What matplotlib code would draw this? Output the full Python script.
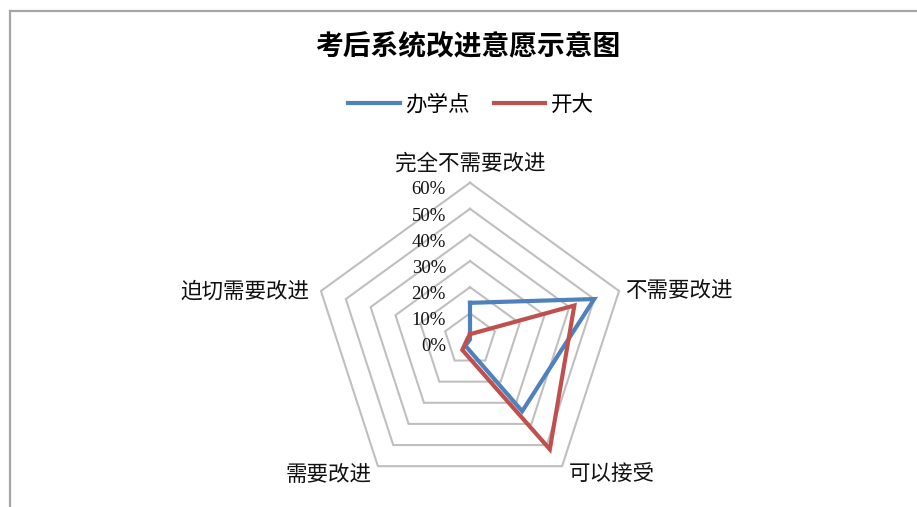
import numpy as np
import matplotlib
matplotlib.use('Agg')
import matplotlib.pyplot as plt
from matplotlib.lines import Line2D

# ---- data ----
categories = ['完全不需要改进', '不需要改进', '可以接受', '需要改进', '迫切需要改进']
series_names = ['办学点', '开大']
banxuedian = [14, 50, 34, 3, 0]
kaida = [2, 42, 52, 5, 1]
tick_values = [0, 10, 20, 30, 40, 50, 60]
tick_labels = ['0%', '10%', '20%', '30%', '40%', '50%', '60%']
title = '考后系统改进意愿示意图'

# ---- style ----
colors = ['#4F81BD', '#C0504D']
grid_color = '#BFBFBF'
cjk = ['Noto Sans CJK SC', 'DejaVu Sans']
plt.rcParams['font.family'] = cjk

W, H = 917, 507
fig = plt.figure(figsize=(W / 100, H / 100), dpi=100)
fig.patch.set_facecolor('white')

# border of the chart area (cropped at right/bottom)
fig.add_artist(Line2D([9.5 / W, 9.5 / W], [-0.1, 1 - 11 / H], transform=fig.transFigure,
                      color='#A6A6A6', lw=1.6))
fig.add_artist(Line2D([9.5 / W, 1.1], [1 - 11 / H, 1 - 11 / H], transform=fig.transFigure,
                      color='#A6A6A6', lw=1.6))

cx, cy, R = 470, 339.4, 156.7
ax = fig.add_axes([(cx - R) / W, (H - cy - R) / H, 2 * R / W, 2 * R / H], projection='polar')
ax.set_theta_offset(np.pi / 2)
ax.set_theta_direction(-1)
ax.set_ylim(0, tick_values[-1])
ax.grid(False)
ax.set_xticks([])
ax.set_yticks([])
ax.spines['polar'].set_visible(False)
ax.patch.set_visible(False)

n = len(categories)
angles = [2 * np.pi * i / n for i in range(n)]
closed = angles + [angles[0]]

for r in tick_values[1:]:
    ax.plot(closed, [r] * (n + 1), color=grid_color, lw=1.5, zorder=1, clip_on=False,
            solid_joinstyle='miter')

handles = []
for name, vals, c in zip(series_names, [banxuedian, kaida], colors):
    h, = ax.plot(closed, list(vals) + [vals[0]], color=c, lw=3, zorder=3, clip_on=False,
                 solid_joinstyle='miter', label=name)
    handles.append(h)

for v, lab in zip(tick_values, tick_labels):
    ax.annotate(lab, xy=(0, v), xytext=(-17.3, -5.2), textcoords='offset points',
                ha='right', va='center', fontsize=13.5, family=['Liberation Serif', 'DejaVu Serif'],
                color='#111111', annotation_clip=False)

label_offsets = [(0, 13.6), (4.3, -1.0), (4.8, -5.8), (-4.8, -7.0), (-8.1, -0.8)]
label_ha = ['center', 'left', 'left', 'right', 'right']
for ang, cat, off, ha in zip(angles, categories, label_offsets, label_ha):
    ax.annotate(cat, xy=(ang, tick_values[-1]), xytext=off, textcoords='offset points',
                ha=ha, va='center', fontsize=15.5, color='#111111', annotation_clip=False)

fig.text(467.5 / W, 1 - 47.5 / H, title, ha='center', va='center', fontsize=20,
         fontweight='bold', color='black')

fig.legend(handles=handles, labels=series_names, loc='center',
           bbox_to_anchor=(471 / W, 1 - 104.5 / H), ncol=2, frameon=False,
           fontsize=15.5, handlelength=2.4, handletextpad=0.25, columnspacing=1.1,
           borderaxespad=0)

fig.savefig('out.png', dpi=100, facecolor='white')
